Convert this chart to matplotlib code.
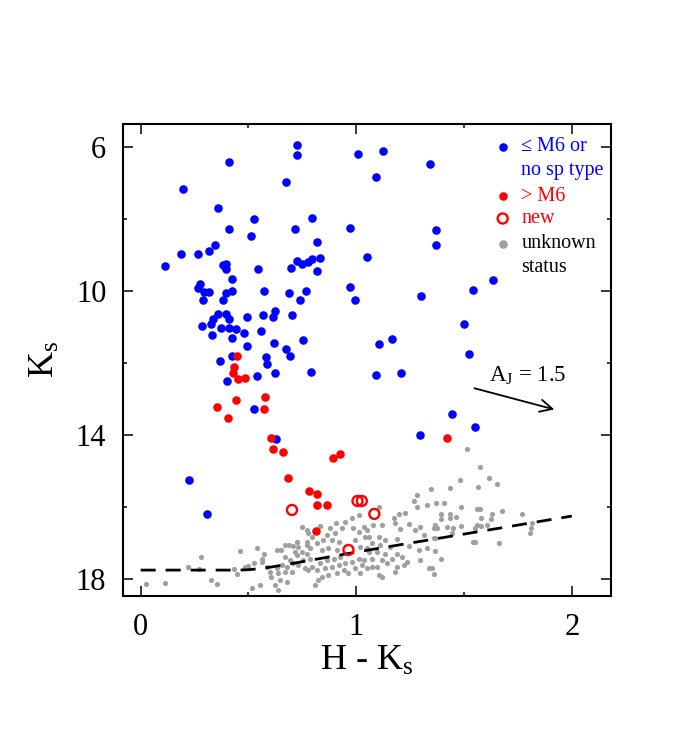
import numpy as np
import matplotlib
matplotlib.use("Agg")
import matplotlib.pyplot as plt

# colour-magnitude diagram: Ks vs H-Ks

# <= M6 or no spectral type
blue_hk = [0.724, 0.727, 1.008, 0.409, 0.673, 0.197, 0.360, 0.526, 0.797, 0.409,
           0.718, 0.972, 0.513, 0.819, 0.343, 0.316, 0.186, 0.268, 0.112, 1.050,
           0.380, 0.398, 0.395, 0.543, 0.698, 0.726, 0.747, 0.775, 0.797, 0.830,
           0.819, 0.426, 0.274, 0.267, 0.293, 0.316, 0.290, 0.423, 0.398, 0.381,
           0.572, 0.687, 0.766, 0.738, 0.972, 0.995, 0.360, 0.336, 0.398, 0.409,
           0.285, 0.324, 0.372, 0.411, 0.442, 0.492, 0.569, 0.615, 0.625, 0.704,
           0.332, 0.425, 0.479, 0.557, 0.755, 0.617, 0.492, 0.673, 0.692, 0.369,
           0.425, 0.581, 0.585,
           0.625, 0.538, 0.401, 0.788, 0.527, 0.628, 0.225, 0.308,
           1.093, 1.208, 1.446, 1.298, 1.550,
           1.124, 1.340, 1.090, 1.370, 1.370, 1.634, 1.540, 1.300, 1.499, 1.168,
           1.108, 1.523]
blue_k = [5.96, 6.23, 6.19, 6.43, 6.97, 7.17, 7.70, 8.01, 7.98, 8.29,
          8.27, 8.25, 8.46, 8.64, 8.71, 8.89, 8.96, 8.97, 9.30, 9.07,
          9.28, 9.25, 9.40, 9.39, 9.35, 9.17, 9.25, 9.19, 9.10, 9.09,
          9.45, 9.68, 9.81, 9.93, 10.02, 10.04, 10.26, 10.01, 10.06, 10.24,
          10.00, 10.05, 9.99, 10.26, 9.90, 10.25, 10.63, 10.77, 10.64, 10.79,
          10.96, 10.93, 11.04, 11.04, 11.06, 10.71, 10.68, 10.71, 10.56, 10.67,
          11.23, 11.31, 11.18, 11.10, 11.35, 11.44, 11.52, 11.62, 11.81, 11.94,
          11.81, 11.83, 12.02,
          12.27, 12.35, 12.49, 12.24, 13.28, 14.10, 15.26, 16.18,
          12.33, 12.27, 13.42, 14.01, 13.78,
          6.10, 6.47, 6.84, 8.31, 8.72, 9.69, 9.97, 10.13, 10.93, 11.34,
          11.48, 11.76]

# > M6
red_hk = [0.445, 0.433, 0.429, 0.453, 0.485, 0.440, 0.356, 0.403, 0.578, 0.572,
          0.603, 0.615, 0.659, 0.891, 0.924, 0.685, 0.783, 0.819, 0.820, 0.865,
          0.814, 1.419]
red_k = [11.81, 12.10, 12.27, 12.45, 12.42, 13.04, 13.23, 13.53, 12.95, 13.29,
         14.08, 14.38, 14.47, 14.64, 14.53, 15.19, 15.56, 15.64, 15.93, 15.93,
         16.67, 14.09]

# new members
new_hk = [0.702, 0.964, 1.006, 1.026, 1.084]
new_k = [16.08, 17.19, 15.83, 15.83, 16.19]

# unknown status
gray_pts = [
    (0.026, 18.14), (0.112, 18.10), (0.278, 17.38), (0.219, 17.67), (0.270, 17.71),
    (0.328, 18.03), (0.352, 18.14), (0.460, 17.21), (0.432, 17.73), (0.445, 17.86),
    (0.484, 17.66), (0.499, 17.63), (0.572, 17.31), (0.561, 17.43), (0.584, 17.66),
    (0.747, 16.55), (0.833, 16.53),
    (0.541, 17.15), (0.527, 17.56), (0.561, 17.52), (0.553, 18.15), (0.515, 18.26),
    (0.600, 17.80), (0.605, 17.95), (0.631, 17.19), (0.651, 17.19), (0.670, 17.06),
    (0.690, 17.04), (0.724, 16.96), (0.732, 17.10), (0.716, 17.24), (0.747, 17.24),
    (0.770, 17.29), (0.670, 17.38), (0.693, 17.47), (0.654, 17.61), (0.631, 17.70),
    (0.677, 17.66), (0.708, 17.56), (0.732, 17.61), (0.639, 17.84), (0.670, 17.80),
    (0.701, 17.80), (0.647, 18.03), (0.623, 18.17), (0.639, 18.31), (0.677, 18.07),
    (0.755, 17.47), (0.763, 17.70), (0.778, 16.73), (0.770, 17.06), (0.708, 17.08),
    (0.724, 17.33),
    (0.770, 16.64), (0.794, 16.82), (0.770, 16.96), (0.786, 17.15), (0.817, 17.01),
    (0.848, 16.92), (0.879, 16.59), (0.905, 16.45), (0.949, 16.41), (0.980, 16.31),
    (1.011, 16.22), (0.933, 16.59), (0.902, 16.73), (0.864, 16.78), (0.887, 16.92),
    (0.918, 16.96), (0.987, 16.59), (1.011, 16.69), (1.034, 16.55), (1.042, 16.82),
    (0.995, 16.92), (0.840, 17.19), (0.871, 17.15), (0.910, 17.19), (1.019, 17.10),
    (1.050, 17.15), (0.786, 17.43), (0.794, 17.66), (0.833, 17.56), (0.864, 17.47),
    (0.895, 17.43), (0.926, 17.40), (1.011, 17.43), (1.034, 17.47), (0.778, 17.75),
    (0.817, 17.75), (0.856, 17.70), (0.887, 17.66), (0.918, 17.61), (0.949, 17.56),
    (0.980, 17.52), (1.026, 17.61), (1.050, 17.70), (0.840, 17.94), (0.871, 17.89),
    (0.910, 17.84), (0.941, 17.75), (0.995, 17.70), (0.825, 18.03), (0.809, 18.17),
    (1.019, 17.84), (0.964, 17.84),
    (1.282, 15.67), (1.349, 15.51), (1.267, 15.83), (1.329, 15.93), (1.282, 15.99),
    (1.104, 15.99), (1.197, 16.19), (1.228, 16.16), (1.174, 16.29), (1.243, 16.48),
    (1.181, 16.45), (1.120, 16.50), (1.080, 16.50), (1.205, 16.62), (1.274, 16.64),
    (1.360, 16.59), (1.314, 16.78), (1.360, 16.87), (1.050, 16.64), (1.057, 16.82),
    (1.104, 16.82), (1.135, 16.92), (1.189, 16.90), (1.073, 17.01), (1.112, 17.06),
    (1.158, 17.10), (1.243, 17.08), (1.329, 17.15), (1.057, 17.24), (1.096, 17.24),
    (1.135, 17.29), (1.189, 17.29), (1.290, 17.19), (1.073, 17.43), (1.120, 17.47),
    (1.166, 17.43), (1.212, 17.38), (1.236, 17.52), (1.073, 17.66), (1.096, 17.66),
    (1.189, 17.66), (1.220, 17.61), (1.298, 17.47), (1.336, 17.70), (1.104, 17.89),
    (1.120, 17.94), (1.181, 17.80), (1.143, 17.56),
    (1.574, 14.88), (1.616, 15.20), (1.480, 15.25), (1.566, 15.44), (1.654, 15.37),
    (1.433, 15.46), (1.372, 15.88), (1.409, 15.88), (1.484, 15.99), (1.558, 16.06),
    (1.574, 16.06), (1.628, 16.18), (1.395, 16.20), (1.433, 16.18), (1.465, 16.27),
    (1.437, 16.31), (1.577, 16.29), (1.623, 16.33), (1.367, 16.50), (1.375, 16.57),
    (1.422, 16.55), (1.450, 16.59), (1.445, 16.73), (1.484, 16.53), (1.553, 16.57),
    (1.580, 16.53), (1.605, 16.50), (1.561, 16.50), (1.364, 16.87), (1.543, 16.98),
    (1.553, 16.98), (1.662, 17.01), (1.364, 17.21), (1.395, 17.43), (1.352, 17.70),
    (1.360, 17.85),
    (1.674, 16.11), (1.771, 16.18), (1.817, 16.44), (1.812, 16.59), (1.806, 16.73),
    (1.515, 14.40), (1.391, 16.34), (1.298, 16.55),
]

# completeness limit (dashed)
dash_hk = [0.0, 0.45, 0.50, 0.55, 0.60, 0.70, 1.0, 1.5, 2.0]
dash_k = [17.75, 17.75, 17.74, 17.71, 17.67, 17.57, 17.25, 16.75, 16.25]

plt.rcParams['font.family'] = ['Liberation Serif', 'DejaVu Serif']
plt.rcParams['mathtext.fontset'] = 'custom'
plt.rcParams['mathtext.rm'] = 'Liberation Serif'
plt.rcParams['mathtext.it'] = 'Liberation Serif:italic'

fig = plt.figure(figsize=(6.75, 7.5), dpi=100)
ax = fig.add_axes([0.1822, 0.2053, 0.7230, 0.6300])

gray_hk, gray_k = np.array(gray_pts).T
ax.scatter(gray_hk, gray_k, s=14, c='#a0a0a0', linewidths=0, zorder=2)
ax.plot(dash_hk, dash_k, color='black', lw=2.0, dashes=(5.4, 3.6), zorder=3)
ax.scatter(blue_hk, blue_k, s=38, c='#0000ff', linewidths=0, zorder=4)
ax.scatter(red_hk, red_k, s=38, c='#ff0000', linewidths=0, zorder=5)
ax.scatter(new_hk, new_k, s=52, facecolors='none', edgecolors='#ff0000',
           linewidths=1.7, zorder=6)

# reddening vector
ax.annotate('', xy=(1.919, 13.29), xytext=(1.548, 12.70),
            arrowprops=dict(arrowstyle='->', lw=1.3, color='black',
                            mutation_scale=22, shrinkA=0, shrinkB=0))
ax.text(1.616, 12.53, r'A$_{\rm J}$ = 1.5', fontsize=16.5, ha='left', va='baseline')

# hand-made legend
tr = ax.transAxes
mx, tx = 0.778, 0.816
fs = 14.5
ax.scatter([mx], [0.951], s=38, c='#0000ff', linewidths=0, transform=tr, clip_on=False)
ax.text(tx, 0.952, '≤ M6 or', color='#0000ff', fontsize=fs, va='center', transform=tr)
ax.text(tx, 0.901, 'no sp type', color='#0000ff', fontsize=fs, va='center', transform=tr)
ax.scatter([mx], [0.847], s=38, c='#ff0000', linewidths=0, transform=tr, clip_on=False)
ax.text(tx, 0.846, '> M6', color='#ff0000', fontsize=fs, va='center', transform=tr)
ax.scatter([mx], [0.799], s=52, facecolors='none', edgecolors='#ff0000',
           linewidths=1.7, transform=tr, clip_on=False)
ax.text(tx, 0.799, 'new', color='#ff0000', fontsize=fs, va='center', transform=tr)
ax.scatter([mx], [0.746], s=38, c='#a0a0a0', linewidths=0, transform=tr, clip_on=False)
ax.text(tx, 0.746, 'unknown', color='black', fontsize=fs, va='center', transform=tr)
ax.text(tx, 0.696, 'status', color='black', fontsize=fs, va='center', transform=tr)

ax.set_xlim(-0.082, 2.182)
ax.set_ylim(18.47, 5.35)
ax.set_xticks([0, 1, 2])
ax.set_xticks([0.5, 1.5], minor=True)
ax.set_yticks([6, 10, 14, 18])
ax.set_yticks([8, 12, 16], minor=True)
ax.tick_params(which='both', direction='in', top=True, right=True, width=1.1)
ax.tick_params(which='major', length=7, labelsize=22, pad=12)
ax.tick_params(which='minor', length=3.2)
for sp in ax.spines.values():
    sp.set_linewidth(1.5)

ax.set_xlabel(r'H - K$_{\rm s}$', fontsize=26, labelpad=2)
ax.set_ylabel(r'K$_{\rm s}$', fontsize=26, labelpad=10)

fig.savefig('out.png', dpi=100)
